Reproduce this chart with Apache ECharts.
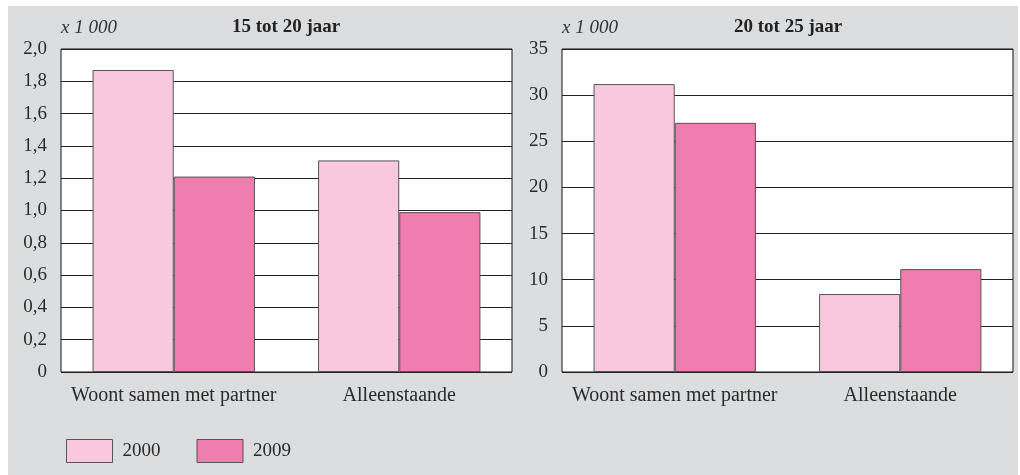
<!DOCTYPE html>
<html>
<head>
<meta charset="utf-8">
<script src="https://cdn.jsdelivr.net/npm/echarts@6/dist/echarts.min.js"></script>
<style>
  html, body { margin: 0; padding: 0; background: #fff; }
  #chart { width: 1020px; height: 475px; }
</style>
</head>
<body>
<div id="chart"></div>
<script>
// chart data
const categories = ["Woont samen met partner", "Alleenstaande"];
const years = ["2000", "2009"];
const young2000 = [1.87, 1.31];   // 15 tot 20 jaar, x 1 000
const young2009 = [1.21, 0.99];
const older2000 = [31.2, 8.45];   // 20 tot 25 jaar, x 1 000
const older2009 = [27.0, 11.15];
const panelTitles = ["15 tot 20 jaar", "20 tot 25 jaar"];
const unitLabel = "x 1 000";

const pale = "#f8c9de";
const dark = "#f07daf";
const serif = "'Liberation Serif', 'DejaVu Serif', serif";

const chart = echarts.init(document.getElementById("chart"), null, { renderer: "canvas" });

function makeGrid(left) {
  return {
    left: left, top: 49, width: 451, height: 323,
    show: true, backgroundColor: "#fff", borderColor: "#111", borderWidth: 1
  };
}

function makeX(idx) {
  return {
    type: "category", gridIndex: idx, data: categories,
    axisLine: { show: false }, axisTick: { show: false },
    axisLabel: { interval: 0, color: "#2a2a2a", fontFamily: serif, fontSize: 20, margin: 14 }
  };
}

function makeY(idx, max, interval, fmt) {
  return {
    type: "value", gridIndex: idx, min: 0, max: max, interval: interval,
    axisLine: { show: false }, axisTick: { show: false },
    splitLine: { show: true, lineStyle: { color: "#222", width: 1 } },
    axisLabel: { color: "#2a2a2a", fontFamily: serif, fontSize: 19, margin: 14, formatter: fmt }
  };
}

function bar(name, data, color, idx) {
  return {
    name: name, type: "bar", xAxisIndex: idx, yAxisIndex: idx, data: data,
    barGap: 0, barCategoryGap: "28%",
    itemStyle: { color: color, borderColor: "#555", borderWidth: 1 },
    emphasis: { disabled: true }
  };
}

const options = {
  backgroundColor: "#fff",
  animation: false,
  graphic: [
    { type: "rect", z: -10, shape: { x: 8, y: 6, width: 1010, height: 469 }, style: { fill: "#dcdddf" } },
    { type: "text", left: 61, top: 18, style: { text: unitLabel, font: "italic 19px " + serif, fill: "#333" } },
    { type: "text", left: 562, top: 18, style: { text: unitLabel, font: "italic 19px " + serif, fill: "#333" } },
    { type: "text", left: 232, top: 18, style: { text: panelTitles[0], font: "bold 19px " + serif, fill: "#222" } },
    { type: "text", left: 734, top: 18, style: { text: panelTitles[1], font: "bold 19px " + serif, fill: "#222" } }
  ],
  legend: {
    data: years, left: 61, top: 434, itemWidth: 46, itemHeight: 23, itemGap: 36,
    icon: "rect",
    itemStyle: { borderColor: "#555", borderWidth: 1 },
    textStyle: { color: "#2a2a2a", fontFamily: serif, fontSize: 19, padding: [0, 0, 0, 5] }
  },
  grid: [makeGrid(61), makeGrid(562)],
  xAxis: [makeX(0), makeX(1)],
  yAxis: [
    makeY(0, 2, 0.2, v => v === 0 ? "0" : v.toFixed(1).replace(".", ",")),
    makeY(1, 35, 5, v => String(v))
  ],
  series: [
    bar(years[0], young2000, pale, 0),
    bar(years[1], young2009, dark, 0),
    bar(years[0], older2000, pale, 1),
    bar(years[1], older2009, dark, 1)
  ]
};

chart.setOption(options);
</script>
</body>
</html>
